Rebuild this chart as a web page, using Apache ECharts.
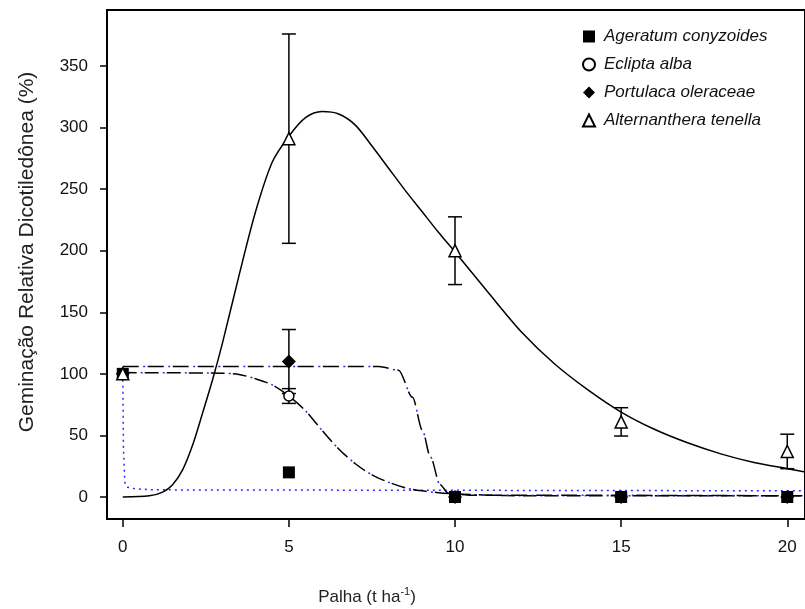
<!DOCTYPE html>
<html>
<head>
<meta charset="utf-8">
<script src="https://cdn.jsdelivr.net/npm/echarts@6/dist/echarts.min.js"></script>
<style>
  html, body { margin: 0; background: #fff; }
  #chart { width: 805px; height: 609px; }
</style>
</head>
<body>
<div id="chart"></div>
<script>
// tick labels
var xTicks = [0, 5, 10, 15, 20];
var yTicks = [0, 50, 100, 150, 200, 250, 300, 350];

// observed means (palha, t/ha) and error bars
var doses = [0, 5, 10, 15, 20];
var ageratum = [100, 20, 0, 0, 0];
var eclipta = [100, 82, 0, 0, 0];
var ecliptaErr = [0, 6, 0, 0, 0];
var portulaca = [100, 110, 0, 0, 0];
var portulacaErr = [0, 26, 0, 0, 0];
var alternanthera = [100, 291, 200, 61, 37];
var alternantheraErr = [0, 85, 27.5, 11.5, 14];

// fitted curves
var fitAgeratumX = [0, 0.02, 0.06, 0.12, 0.4, 1, 20.6];
var fitAgeratumY = [100, 40, 12, 8, 6.5, 5.8, 5];
var fitEcliptaX = [0, 3, 3.5, 4, 4.5, 5, 5.5, 6, 6.5, 7, 7.5, 8, 8.5, 9, 9.5, 10, 11, 12, 20.6];
var fitEcliptaY = [101, 100.5, 99.5, 96, 91, 82, 70, 54, 39, 27, 18, 12, 7.5, 5, 3.5, 2.5, 1.5, 1, 1];
var fitPortulacaX = [0, 4, 7.7, 8.3, 8.72, 9.02, 9.26, 9.55, 9.8, 10.5, 20.6];
var fitPortulacaY = [106, 106, 106, 103, 81, 54, 32.5, 10, 3, 1.5, 1];
var fitAlternantheraX = [0, 0.8, 1.2, 1.5, 1.8, 2.1, 2.4, 2.7, 3.0, 3.5, 4.0, 4.5, 5.0, 5.5, 6.0, 6.5, 7.0, 7.5, 8.0, 8.5, 9.0, 9.5, 10, 11, 12, 13, 14, 15, 16, 17, 18, 19, 20, 20.6];
var fitAlternantheraY = [0, 1, 4, 10, 22, 42, 68, 95, 125, 180, 232, 272, 293, 308, 313, 311, 302, 285, 267, 249, 232, 215, 199, 166, 134, 108, 87, 69, 55, 44, 35, 28, 23, 20];

var names = ['Ageratum conyzoides', 'Eclipta alba', 'Portulaca oleraceae', 'Alternanthera tenella'];

function pairs(xs, ys) {
  return xs.map(function (x, i) { return [x, ys[i]]; });
}
function bars(xs, ys, es) {
  var out = [];
  xs.forEach(function (x, i) {
    if (es[i] > 0) out.push([x, ys[i] - es[i], ys[i] + es[i]]);
  });
  return out;
}

function errorSeries(data) {
  return {
    type: 'custom',
    data: data,
    z: 3,
    silent: true,
    encode: { x: 0, y: [1, 2] },
    renderItem: function (params, api) {
      var x = api.value(0);
      var lo = api.coord([x, api.value(1)]);
      var hi = api.coord([x, api.value(2)]);
      var w = 7;
      var st = { stroke: '#000', lineWidth: 1.5 };
      return {
        type: 'group',
        children: [
          { type: 'line', shape: { x1: lo[0], y1: lo[1], x2: hi[0], y2: hi[1] }, style: st },
          { type: 'line', shape: { x1: lo[0] - w, y1: lo[1], x2: lo[0] + w, y2: lo[1] }, style: st },
          { type: 'line', shape: { x1: hi[0] - w, y1: hi[1], x2: hi[0] + w, y2: hi[1] }, style: st }
        ]
      };
    }
  };
}

function fitLine(data, color, type, width, offset, smooth, mono) {
  return {
    type: 'line',
    data: data,
    showSymbol: false,
    symbol: 'none',
    smooth: smooth,
    smoothMonotone: mono || null,
    silent: true,
    z: 2,
    lineStyle: { color: color, width: width, type: type, dashOffset: offset || 0 }
  };
}

var chart = echarts.init(document.getElementById('chart'), null, { renderer: 'canvas' });

var fontFam = '"Liberation Sans", Arial, sans-serif';

var option = {
  backgroundColor: '#fff',
  animation: false,
  grid: {
    left: 107, top: 10, right: -10, bottom: 90,
    show: true, borderColor: '#000', borderWidth: 2
  },
  legend: {
    orient: 'vertical',
    left: 577, top: 23,
    itemWidth: 12, itemHeight: 12, itemGap: 11,
    data: names,
    textStyle: { fontFamily: fontFam, fontSize: 17, fontStyle: 'italic', color: '#111', padding: [0, 0, 0, 4] }
  },
  xAxis: {
    type: 'value',
    min: -0.4748, max: 20.534,
    axisLine: { onZero: false, lineStyle: { color: '#000', width: 2 } },
    axisTick: { show: true, inside: false, length: 8, customValues: xTicks, lineStyle: { color: '#000', width: 1.5 } },
    axisLabel: { customValues: xTicks, margin: 20, fontFamily: fontFam, fontSize: 17, color: '#111' },
    splitLine: { show: false }
  },
  yAxis: {
    type: 'value',
    min: -17.87, max: 395.47,
    axisLine: { onZero: false, lineStyle: { color: '#000', width: 2 } },
    axisTick: { show: true, inside: false, length: 7, customValues: yTicks, lineStyle: { color: '#000', width: 1.5 } },
    axisLabel: { customValues: yTicks, margin: 19, fontFamily: fontFam, fontSize: 17, color: '#111' },
    splitLine: { show: false }
  },
  graphic: [
    {
      type: 'text', x: 27, y: 252, rotation: Math.PI / 2,
      style: {
        text: 'Geminação Relativa Dicotiledônea (%)',
        fontFamily: fontFam, fontSize: 21, fill: '#222',
        textAlign: 'center', textVerticalAlign: 'middle'
      }
    },
    {
      type: 'text', x: 367, y: 597,
      style: {
        text: 'Palha (t ha{sup|-1})',
        fontFamily: fontFam, fontSize: 17, fill: '#222',
        textAlign: 'center', textVerticalAlign: 'middle',
        rich: { sup: { fontFamily: fontFam, fontSize: 11, fill: '#222', verticalAlign: 'top', padding: [0, 0, 10, 0] } }
      }
    }
  ],
  series: [
    // fitted curves
    fitLine(pairs(fitAgeratumX, fitAgeratumY), '#2b2bff', [2, 4], 1.5, 0, false),
    fitLine(pairs(fitEcliptaX, fitEcliptaY), '#000', [14, 8], 1.5, 0, 0.3),
    fitLine(pairs(fitEcliptaX, fitEcliptaY), '#2b2bff', [2, 20], 1.5, 4, 0.3),
    fitLine(pairs(fitPortulacaX, fitPortulacaY), '#000', [16, 9], 1.5, 0, 0.3, 'x'),
    fitLine(pairs(fitPortulacaX, fitPortulacaY), '#2b2bff', [2, 23], 1.5, 4.5, 0.3, 'x'),
    fitLine(pairs(fitAlternantheraX, fitAlternantheraY), '#000', 'solid', 1.5, 0, 0.3),
    // error bars
    errorSeries(bars(doses, eclipta, ecliptaErr)),
    errorSeries(bars(doses, portulaca, portulacaErr)),
    errorSeries(bars(doses, alternanthera, alternantheraErr)),
    // observed points
    {
      name: names[1], type: 'scatter', z: 4, symbol: 'circle', symbolSize: 10,
      itemStyle: { color: '#fff', borderColor: '#000', borderWidth: 1.5, opacity: 1 },
      data: pairs(doses, eclipta)
    },
    {
      name: names[0], type: 'scatter', z: 5, symbol: 'rect', symbolSize: 12,
      itemStyle: { color: '#000', opacity: 1 },
      data: pairs(doses, ageratum)
    },
    {
      name: names[2], type: 'scatter', z: 5, symbol: 'diamond', symbolSize: 14,
      itemStyle: { color: '#000', opacity: 1 },
      data: pairs(doses, portulaca)
    },
    {
      name: names[3], type: 'scatter', z: 6, symbol: 'triangle', symbolSize: 12,
      itemStyle: { color: '#fff', borderColor: '#000', borderWidth: 1.5, opacity: 1 },
      data: pairs(doses, alternanthera)
    }
  ]
};

chart.setOption(option);
window.addEventListener('resize', function () { chart.resize(); });
</script>
</body>
</html>
